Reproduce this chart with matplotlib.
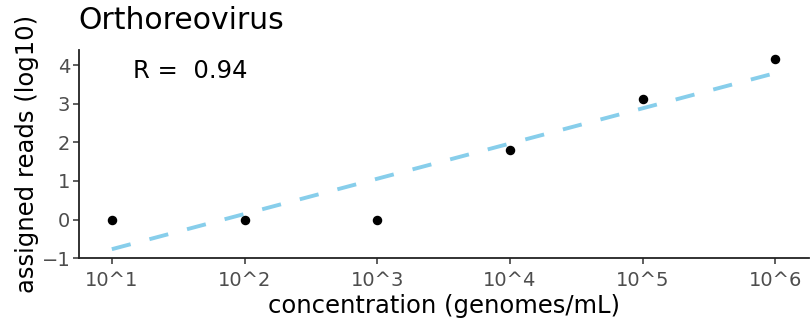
import numpy as np
import matplotlib
matplotlib.use("Agg")
import matplotlib.pyplot as plt

# concentration (log10 genomes/mL) vs assigned reads (log10)
conc_log = [1, 2, 3, 4, 5, 6]
tick_labels = ["10^1", "10^2", "10^3", "10^4", "10^5", "10^6"]
reads_log = [0.0, 0.0, 0.0, 1.80, 3.12, 4.16]
r_value = 0.94

x = np.array(conc_log, dtype=float)
y = np.array(reads_log)
slope, intercept = np.polyfit(x, y, 1)
xf = np.array([x.min(), x.max()])

fig, ax = plt.subplots(figsize=(8.11, 3.21), dpi=100)
fig.subplots_adjust(left=0.097, right=0.997, bottom=0.196, top=0.845)

ax.plot(xf, slope * xf + intercept, "--", color="#87CEEB", linewidth=2.8,
        dashes=(5, 5), zorder=1)
ax.scatter(x, y, color="black", s=34, zorder=2)

ax.text(1.16, 3.85, f"R =  {r_value}", fontsize=17.5, ha="left", va="center")

ax.set_xlim(0.75, 6.25)
ax.set_ylim(-1, 4.4)
ax.set_xticks(conc_log)
ax.set_xticklabels(tick_labels)
ax.set_yticks([-1, 0, 1, 2, 3, 4])
ax.tick_params(labelsize=14, labelcolor="#4D4D4D", length=4, width=1.1,
               color="#333333", pad=2)
ax.tick_params(axis="x", pad=5)
for s in ["top", "right"]:
    ax.spines[s].set_visible(False)
for s in ["left", "bottom"]:
    ax.spines[s].set_linewidth(1.3)
    ax.spines[s].set_color("#222222")

ax.set_xlabel("concentration (genomes/mL)", fontsize=17.5, labelpad=3)
ax.set_ylabel("assigned reads (log10)", fontsize=17.5, labelpad=2)
ax.set_title("Orthoreovirus", fontsize=21.5, loc="left", pad=15)

fig.savefig("out.png", dpi=100)
